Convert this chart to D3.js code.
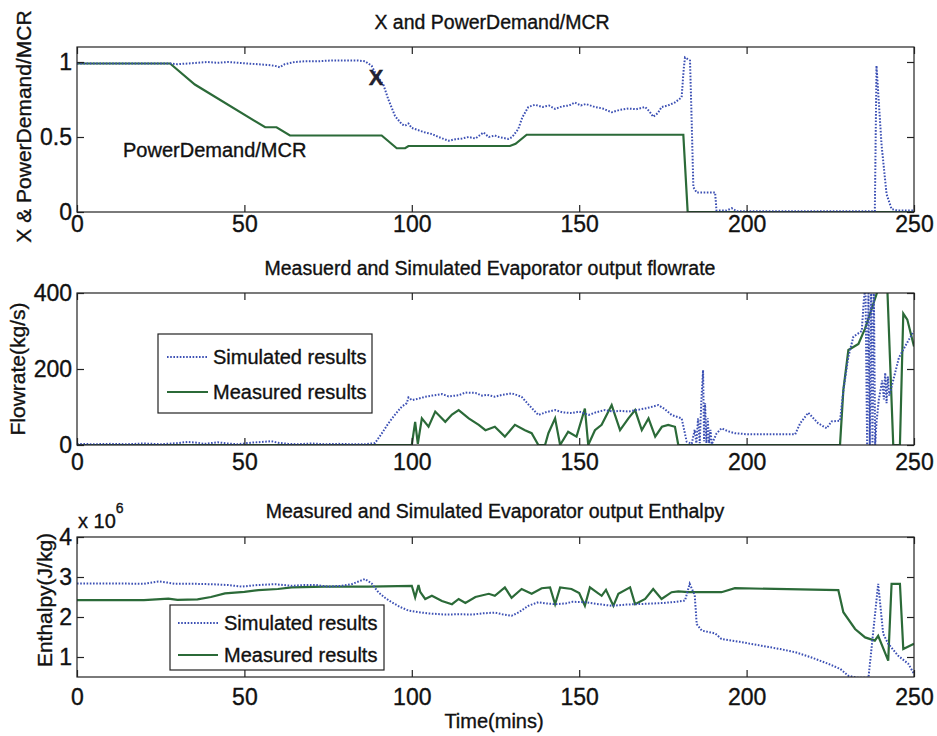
<!DOCTYPE html>
<html lang="en">
<head>
<meta charset="UTF-8">
<title>Evaporator results</title>
<script src="https://d3js.org/d3.v7.min.js"></script>
<style>
    body { margin: 0; background: #fff; }
    svg text { font-family: "Liberation Sans", Arial, sans-serif; fill: #111; stroke: #111; stroke-width: 0.35px; }
    .frame { fill: none; stroke: #222; stroke-width: 1.2; }
    .tick line { stroke: #222; stroke-width: 1.2; }
    .domain { display: none; }
    .sim { fill: none; stroke: #3c50b4; stroke-width: 2; stroke-dasharray: 1.6,1.6; }
    .meas { fill: none; stroke: #2b6a38; stroke-width: 2.2; }
</style>
</head>
<body>
<div id="chart"></div>
<script>
// time axis (mins)
const timeTicks = [0, 50, 100, 150, 200, 250];

// panel 1: X (simulated) and PowerDemand/MCR
const xSimulated = [[0,0.99],[5,0.99],[10,0.99],[15,0.99],[20,0.99],[25,0.99],[28,0.99],[30,0.985],[33,0.99],[36,0.995],[39,1.0],[42,0.995],[45,1.0],[48,0.995],[51,0.99],[54,0.985],[57,0.98],[59,0.975],[60.6,0.965],[62,0.985],[65,1.0],[68,1.005],[72,1.005],[76,1.01],[80,1.01],[84,1.01],[86,1.005],[88,0.975],[89.5,0.91],[91.5,0.85],[93,0.75],[95,0.64],[97,0.585],[98,0.575],[99,0.59],[100,0.56],[102,0.545],[104,0.53],[106,0.52],[108,0.5],[111,0.475],[113,0.485],[115,0.49],[117,0.5],[119,0.49],[121.4,0.53],[123,0.5],[124.8,0.51],[126,0.5],[128.8,0.487],[130,0.5],[131.8,0.553],[133,0.63],[134.8,0.70],[136.8,0.715],[139,0.7],[141,0.71],[142.8,0.687],[145,0.705],[147,0.71],[148.7,0.73],[150.5,0.71],[152,0.72],[154.7,0.70],[157,0.69],[159.7,0.665],[162,0.68],[164.7,0.69],[167,0.685],[169.7,0.70],[171,0.67],[172.1,0.635],[173.5,0.66],[174.6,0.70],[176.5,0.71],[178.6,0.73],[180.6,0.765],[181.2,0.95],[181.6,1.03],[183.1,1.01],[183.6,0.6],[184.1,0.165],[185.1,0.13],[188,0.13],[190.6,0.13],[191,0.01],[194,0.01],[195.6,0.025],[197,0.005],[200,0.005],[238.3,0.005],[238.8,0.975],[240.3,0.45],[241.8,0.12],[243.3,0.02],[245,0.01],[250,0.01]];
const powerDemand = [[0,0.99],[27.8,0.99],[35.2,0.85],[56.2,0.565],[59.6,0.565],[63.6,0.51],[91,0.51],[95.5,0.425],[98,0.425],[99,0.44],[129.3,0.44],[131,0.455],[134.3,0.515],[181.1,0.515],[182.4,0],[250,0]];

// panel 2: flowrate (kg/s)
const flowSimulated = [[0,3],[5,2],[10,3],[15,2],[20,4],[25,2],[30,5],[33,8],[36,6],[38,3],[42,7],[45,4],[48,2],[52,6],[55,8],[58,10],[60,6],[63,3],[66,2],[70,4],[74,2],[78,3],[82,2],[86,2],[89,5],[91,30],[93,57],[95,80],[97,101],[98.5,110],[99,125],[100,118],[102,122],[104,127],[106,130],[109,134],[111,128],[114,131],[116,138],[119,137],[121,130],[122.5,132],[124.8,127],[127,132],[129.8,136],[132.8,127],[135,105],[137.8,79],[140,86],[142.8,92],[145,86],[147.8,84],[150,88],[152.8,79],[155,86],[157.7,92],[160,88],[162,90],[164.7,88],[167,92],[169.7,96],[171.5,100],[173.6,105],[175.5,95],[177.6,79],[180.6,70],[182.1,9],[183.6,3],[184.5,40],[185,5],[185.5,70],[186,5],[186.5,120],[187,197],[187.3,10],[187.6,110],[188,5],[188.4,70],[188.8,5],[189.2,40],[189.6,2],[191,30],[192.5,44],[194.5,36],[196.5,31],[200.5,28],[205,28],[210,28],[214.5,28],[216,57],[218.4,85],[221.4,57],[223.9,44],[225.4,62],[227.9,64],[229,150],[230.4,232],[231.9,285],[234.4,300],[235,380],[235.5,420],[236,0],[236.4,420],[236.8,0],[237.2,420],[237.6,0],[238,420],[238.4,0],[238.8,60],[239.5,120],[240.5,170],[241,120],[241.4,190],[241.8,110],[242.2,180],[242.6,130],[243.5,160],[245.5,230],[248,270],[250,300]];
const flowMeasured = [[0,0],[100,0],[101,61],[101.8,3],[103,70],[105,48],[107,88],[110,61],[112,80],[114,92],[117,70],[120,53],[122,39],[124.8,48],[127.8,22],[130.8,53],[133.8,39],[135.8,31],[137.8,0],[139.8,0],[140.8,31],[142.8,70],[144.3,0],[146.7,35],[149.2,22],[151.7,96],[152.7,0],[154.7,39],[156.7,53],[159.7,105],[162.2,39],[164.7,70],[166.7,92],[168.7,39],[170.7,70],[172.7,22],[174.7,48],[176.6,53],[178.6,48],[179.6,0],[227.9,0],[228.9,145],[230.4,250],[233.4,266],[235.4,307],[239.3,410],[240.5,430],[242,420],[243.8,0],[245.8,0],[246.8,346],[248,330],[250,259]];

// panel 3: enthalpy (x 10^6 J/kg)
const enthSimulated = [[0,2.84],[10,2.84],[20,2.83],[24.3,2.89],[27,2.86],[29.3,2.83],[35,2.83],[40,2.82],[45,2.8],[49.2,2.76],[54,2.8],[59.2,2.82],[64,2.78],[68,2.8],[71.2,2.8],[75,2.76],[79,2.78],[82,2.82],[86,2.95],[88,2.84],[90,2.62],[92,2.48],[94,2.37],[96.5,2.25],[99,2.16],[102,2.12],[105,2.09],[110,2.06],[114,2.07],[118,2.06],[121,2.09],[124.8,2.11],[127,2.07],[129.8,2.03],[132,2.12],[134.8,2.28],[137.8,2.37],[140,2.34],[142.8,2.32],[146,2.34],[148,2.38],[151.7,2.37],[155,2.33],[159.7,2.28],[164,2.31],[169.7,2.33],[175,2.35],[179,2.38],[181.6,2.41],[183,2.83],[184.5,2.55],[185.1,1.82],[186.6,1.66],[190.6,1.59],[192.5,1.45],[198,1.38],[204.5,1.28],[210,1.2],[214.5,1.12],[219,1.0],[224.4,0.83],[228,0.7],[230.4,0.53],[233,0.48],[236.4,0.48],[239.3,2.83],[240.8,1.58],[242.3,1.33],[245.3,1.03],[248.3,0.83],[250,0.58]];
const enthMeasured = [[0,2.42],[20,2.42],[27.3,2.46],[30,2.43],[36,2.44],[40,2.5],[44.2,2.59],[50,2.63],[54.2,2.67],[60,2.7],[64.1,2.74],[74,2.76],[87,2.76],[100,2.78],[101,2.49],[102,2.8],[102.5,2.63],[104,2.45],[106,2.53],[109,2.4],[112,2.32],[114,2.45],[116,2.35],[119,2.5],[123,2.58],[124.8,2.53],[127.8,2.74],[129.8,2.48],[132.8,2.7],[135.8,2.58],[138.8,2.72],[141.3,2.74],[142.8,2.32],[144.3,2.74],[147.7,2.7],[150,2.6],[151.7,2.28],[153.2,2.74],[156.7,2.53],[158,2.68],[160.2,2.28],[161.7,2.58],[165.2,2.74],[166.7,2.32],[169.7,2.45],[172.1,2.7],[174.6,2.45],[177.6,2.62],[179.6,2.64],[182.6,2.62],[192.5,2.62],[196.5,2.72],[227.4,2.67],[228.9,2.12],[232.4,1.7],[235.4,1.49],[238.3,1.41],[239.3,1.53],[242.3,0.91],[243.3,2.83],[245.8,2.83],[246.8,1.2],[250,1.33]];

const legendLabels = ["Simulated results", "Measured results"];

const width = 937, height = 736;
const svg = d3.select("#chart").append("svg")
    .attr("width", width)
    .attr("height", height);

const x = d3.scaleLinear().domain([0, 250]).range([77, 914]);

function panel(cfg) {
    const y = d3.scaleLinear().domain(cfg.domain).range([cfg.bottom, cfg.top]);
    const g = svg.append("g");

    const clipId = "clip-" + cfg.id;
    svg.append("clipPath").attr("id", clipId)
        .append("rect")
        .attr("x", x.range()[0]).attr("y", cfg.top)
        .attr("width", x.range()[1] - x.range()[0])
        .attr("height", cfg.bottom - cfg.top);

    const line = d3.line().x(d => x(d[0])).y(d => y(d[1]));
    const plot = g.append("g").attr("clip-path", `url(#${clipId})`);
    plot.append("path").datum(cfg.meas).attr("class", "meas").attr("d", line);
    plot.append("path").datum(cfg.sim).attr("class", "sim").attr("d", line);

    g.append("rect").attr("class", "frame")
        .attr("x", x.range()[0]).attr("y", cfg.top)
        .attr("width", x.range()[1] - x.range()[0])
        .attr("height", cfg.bottom - cfg.top);

    // matlab style inward ticks on all four sides
    g.append("g").attr("transform", `translate(0,${cfg.bottom})`)
        .call(d3.axisBottom(x).tickValues(timeTicks).tickSizeInner(-7).tickSizeOuter(0).tickPadding(cfg.xPad))
        .selectAll("text").style("font-size", "23px");
    g.append("g").attr("transform", `translate(0,${cfg.top})`)
        .call(d3.axisTop(x).tickValues(timeTicks).tickSizeInner(-7).tickSizeOuter(0).tickFormat(""));
    g.append("g").attr("transform", `translate(${x.range()[0]},0)`)
        .call(d3.axisLeft(y).tickValues(cfg.ticks).tickSizeInner(-7).tickSizeOuter(0).tickPadding(5).tickFormat(d => String(d)))
        .selectAll("text").style("font-size", "23px");
    g.append("g").attr("transform", `translate(${x.range()[1]},0)`)
        .call(d3.axisRight(y).tickValues(cfg.ticks).tickSizeInner(-7).tickSizeOuter(0).tickFormat(""));

    g.append("text")
        .attr("x", cfg.titleX).attr("y", cfg.titleY)
        .attr("text-anchor", "middle")
        .style("font-size", "19.5px")
        .text(cfg.title);

    g.append("text")
        .attr("transform", `translate(${cfg.labelX},${(cfg.top + cfg.bottom) / 2 + cfg.labelShift}) rotate(-90)`)
        .attr("text-anchor", "middle")
        .style("font-size", "21px")
        .text(cfg.ylabel);

    return y;
}

function legend(box) {
    const g = svg.append("g");
    g.append("rect")
        .attr("x", box.x).attr("y", box.y).attr("width", box.w).attr("height", box.h)
        .attr("fill", "#fff").attr("stroke", "#222").attr("stroke-width", 1.2);
    legendLabels.forEach((label, i) => {
        const yy = box.rows[i];
        g.append("line")
            .attr("class", i === 0 ? "sim" : "meas")
            .attr("x1", box.lineX[0]).attr("x2", box.lineX[1])
            .attr("y1", yy).attr("y2", yy);
        g.append("text")
            .attr("x", box.textX).attr("y", yy + 7)
            .style("font-size", "20px")
            .text(label);
    });
}

const yTop = panel({
    id: "top", domain: [0, 1.1], top: 47, bottom: 212, ticks: [0, 0.5, 1],
    sim: xSimulated, meas: powerDemand, xPad: 4,
    title: "X and PowerDemand/MCR", titleX: 492, titleY: 29,
    ylabel: "X & PowerDemand/MCR", labelX: 31, labelShift: -3
});
svg.append("text")
    .attr("x", 123).attr("y", yTop(0.37))
    .style("font-size", "20px")
    .text("PowerDemand/MCR");
svg.append("text")
    .attr("x", x(89.3)).attr("y", yTop(0.9) + 8)
    .attr("text-anchor", "middle")
    .style("font-size", "22px")
    .style("font-weight", "bold")
    .style("fill", "#223")
    .text("X");

panel({
    id: "mid", domain: [0, 400], top: 293, bottom: 445, ticks: [0, 200, 400],
    sim: flowSimulated, meas: flowMeasured, xPad: 9,
    title: "Measuerd and Simulated Evaporator output flowrate", titleX: 490, titleY: 275,
    ylabel: "Flowrate(kg/s)", labelX: 25, labelShift: 0
});
legend({ x: 158, y: 334, w: 214, h: 79, rows: [357, 392], lineX: [167, 208], textX: 213 });

panel({
    id: "bot", domain: [0.5, 4], top: 537, bottom: 677, ticks: [1, 2, 3, 4],
    sim: enthSimulated, meas: enthMeasured, xPad: 12,
    title: "Measured and Simulated Evaporator output Enthalpy", titleX: 495, titleY: 518,
    ylabel: "Enthalpy(J/kg)", labelX: 52, labelShift: -7
});
legend({ x: 170, y: 605, w: 214, h: 65, rows: [623, 655], lineX: [178, 218], textX: 224 });

const mult = svg.append("text").attr("x", 78).attr("y", 528).style("font-size", "20px");
mult.append("tspan").text("x 10");
mult.append("tspan").attr("dy", -15).style("font-size", "14px").text("6");

svg.append("text")
    .attr("x", 494).attr("y", 728)
    .attr("text-anchor", "middle")
    .style("font-size", "20px")
    .text("Time(mins)");
</script>
</body>
</html>
